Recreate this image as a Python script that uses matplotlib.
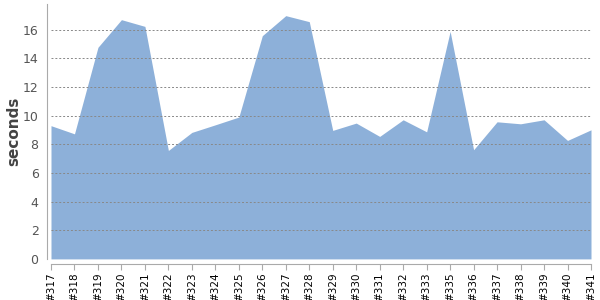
import matplotlib
matplotlib.use("Agg")
import matplotlib.pyplot as plt
import numpy as np

builds = ["#317", "#318", "#319", "#320", "#321", "#322", "#323", "#324",
          "#325", "#326", "#327", "#328", "#329", "#330", "#331", "#332",
          "#333", "#335", "#336", "#337", "#338", "#339", "#340", "#341"]
seconds = [9.3, 8.73, 14.77, 16.7, 16.23, 7.57, 8.83, 9.36,
           9.9, 15.58, 16.98, 16.56, 8.97, 9.48, 8.55, 9.71,
           8.87, 15.88, 7.62, 9.57, 9.43, 9.71, 8.27, 9.01]
yticks = [0, 2, 4, 6, 8, 10, 12, 14, 16]

fig = plt.figure(figsize=(6, 3), dpi=100)
ax = fig.add_axes([0.085, 0.137, 0.9, 0.85])

# spines first: set_position resets tick label styling
for s in ["top", "right"]:
    ax.spines[s].set_visible(False)
ax.spines["left"].set_position(("outward", 3))
ax.spines["bottom"].set_position(("outward", 4))
ax.spines["left"].set_color("#aaaaaa")
ax.spines["bottom"].set_color("#aaaaaa")

x = np.arange(len(builds))
ax.fill_between(x, 0, seconds, color="#8DB0D9", linewidth=0, zorder=2)

ax.set_xlim(0, len(builds) - 1)
ax.set_ylim(0, 17.8)
ax.set_xticks(x)
ax.set_xticklabels(builds, rotation=90, fontsize=7.5, color="black")
ax.set_yticks(yticks)
ax.set_yticklabels([str(v) for v in yticks], fontsize=9, color="#555555")
ax.set_ylabel("seconds", fontsize=11, color="#444444", fontweight="bold")
ax.yaxis.set_label_coords(-0.055, 0.5)

# dashed horizontal grid only
for v in yticks[1:]:
    ax.axhline(v, color="#888888", linestyle=(0, (2, 2)), linewidth=0.7, zorder=3)

ax.tick_params(axis="x", length=4, color="#aaaaaa", pad=2)
ax.tick_params(axis="y", length=0, pad=6)

fig.savefig("out.png", dpi=100)
